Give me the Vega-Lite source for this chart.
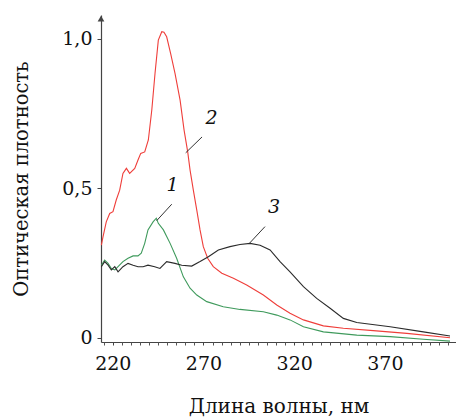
{
  "$schema": "https://vega.github.io/schema/vega-lite/v6.json",
  "width": 355,
  "height": 327,
  "autosize": "none",
  "padding": {"left": 101, "top": 15, "right": 0, "bottom": 75},
  "background": "white",
  "config": {
    "view": {"stroke": null},
    "font": "DejaVu Serif",
    "axis": {"grid": false, "domainColor": "#444", "tickColor": "#444", "labelColor": "#111", "titleColor": "#111", "labelFont": "DejaVu Serif", "titleFont": "DejaVu Serif", "titleFontWeight": "normal"}
  },
  "datasets": {
    "spectra": [
      {"wl": 213.7, "A": 0.310, "curve": "2"},
      {"wl": 214.6, "A": 0.338, "curve": "2"},
      {"wl": 216.4, "A": 0.388, "curve": "2"},
      {"wl": 218.3, "A": 0.416, "curve": "2"},
      {"wl": 220.1, "A": 0.422, "curve": "2"},
      {"wl": 221.9, "A": 0.461, "curve": "2"},
      {"wl": 223.8, "A": 0.494, "curve": "2"},
      {"wl": 225.6, "A": 0.550, "curve": "2"},
      {"wl": 227.5, "A": 0.567, "curve": "2"},
      {"wl": 229.3, "A": 0.550, "curve": "2"},
      {"wl": 232.1, "A": 0.567, "curve": "2"},
      {"wl": 233.9, "A": 0.595, "curve": "2"},
      {"wl": 235.4, "A": 0.617, "curve": "2"},
      {"wl": 237.6, "A": 0.622, "curve": "2"},
      {"wl": 239.6, "A": 0.662, "curve": "2"},
      {"wl": 241.5, "A": 0.762, "curve": "2"},
      {"wl": 243.3, "A": 0.886, "curve": "2"},
      {"wl": 245.1, "A": 0.996, "curve": "2"},
      {"wl": 247.0, "A": 1.024, "curve": "2"},
      {"wl": 248.2, "A": 1.022, "curve": "2"},
      {"wl": 249.7, "A": 1.007, "curve": "2"},
      {"wl": 251.9, "A": 0.951, "curve": "2"},
      {"wl": 254.3, "A": 0.885, "curve": "2"},
      {"wl": 257.1, "A": 0.795, "curve": "2"},
      {"wl": 259.3, "A": 0.695, "curve": "2"},
      {"wl": 261.3, "A": 0.622, "curve": "2"},
      {"wl": 262.6, "A": 0.561, "curve": "2"},
      {"wl": 264.4, "A": 0.494, "curve": "2"},
      {"wl": 266.3, "A": 0.427, "curve": "2"},
      {"wl": 268.1, "A": 0.361, "curve": "2"},
      {"wl": 269.9, "A": 0.305, "curve": "2"},
      {"wl": 272.3, "A": 0.266, "curve": "2"},
      {"wl": 275.4, "A": 0.238, "curve": "2"},
      {"wl": 280.1, "A": 0.216, "curve": "2"},
      {"wl": 286.5, "A": 0.199, "curve": "2"},
      {"wl": 293.8, "A": 0.177, "curve": "2"},
      {"wl": 303.0, "A": 0.143, "curve": "2"},
      {"wl": 310.4, "A": 0.110, "curve": "2"},
      {"wl": 317.7, "A": 0.082, "curve": "2"},
      {"wl": 325.1, "A": 0.060, "curve": "2"},
      {"wl": 336.1, "A": 0.040, "curve": "2"},
      {"wl": 347.1, "A": 0.032, "curve": "2"},
      {"wl": 363.6, "A": 0.024, "curve": "2"},
      {"wl": 382.1, "A": 0.015, "curve": "2"},
      {"wl": 405.9, "A": 0.000, "curve": "2"},

      {"wl": 213.7, "A": 0.243, "curve": "1"},
      {"wl": 215.5, "A": 0.260, "curve": "1"},
      {"wl": 217.4, "A": 0.249, "curve": "1"},
      {"wl": 219.2, "A": 0.232, "curve": "1"},
      {"wl": 221.1, "A": 0.227, "curve": "1"},
      {"wl": 222.9, "A": 0.238, "curve": "1"},
      {"wl": 225.6, "A": 0.255, "curve": "1"},
      {"wl": 228.4, "A": 0.266, "curve": "1"},
      {"wl": 231.2, "A": 0.274, "curve": "1"},
      {"wl": 233.9, "A": 0.274, "curve": "1"},
      {"wl": 235.7, "A": 0.283, "curve": "1"},
      {"wl": 237.6, "A": 0.316, "curve": "1"},
      {"wl": 239.4, "A": 0.361, "curve": "1"},
      {"wl": 242.2, "A": 0.388, "curve": "1"},
      {"wl": 244.0, "A": 0.400, "curve": "1"},
      {"wl": 245.1, "A": 0.383, "curve": "1"},
      {"wl": 247.9, "A": 0.361, "curve": "1"},
      {"wl": 251.6, "A": 0.316, "curve": "1"},
      {"wl": 255.2, "A": 0.266, "curve": "1"},
      {"wl": 258.9, "A": 0.204, "curve": "1"},
      {"wl": 262.6, "A": 0.166, "curve": "1"},
      {"wl": 266.3, "A": 0.143, "curve": "1"},
      {"wl": 271.8, "A": 0.121, "curve": "1"},
      {"wl": 280.9, "A": 0.104, "curve": "1"},
      {"wl": 290.1, "A": 0.095, "curve": "1"},
      {"wl": 303.0, "A": 0.087, "curve": "1"},
      {"wl": 310.4, "A": 0.076, "curve": "1"},
      {"wl": 317.7, "A": 0.060, "curve": "1"},
      {"wl": 325.1, "A": 0.037, "curve": "1"},
      {"wl": 336.1, "A": 0.020, "curve": "1"},
      {"wl": 354.5, "A": 0.009, "curve": "1"},
      {"wl": 372.9, "A": 0.004, "curve": "1"},
      {"wl": 391.2, "A": -0.005, "curve": "1"},
      {"wl": 405.9, "A": -0.011, "curve": "1"},

      {"wl": 213.7, "A": 0.238, "curve": "3"},
      {"wl": 215.5, "A": 0.255, "curve": "3"},
      {"wl": 217.4, "A": 0.243, "curve": "3"},
      {"wl": 219.2, "A": 0.227, "curve": "3"},
      {"wl": 221.1, "A": 0.238, "curve": "3"},
      {"wl": 222.9, "A": 0.221, "curve": "3"},
      {"wl": 225.6, "A": 0.238, "curve": "3"},
      {"wl": 228.4, "A": 0.249, "curve": "3"},
      {"wl": 231.2, "A": 0.243, "curve": "3"},
      {"wl": 233.9, "A": 0.238, "curve": "3"},
      {"wl": 236.7, "A": 0.238, "curve": "3"},
      {"wl": 239.4, "A": 0.243, "curve": "3"},
      {"wl": 243.1, "A": 0.238, "curve": "3"},
      {"wl": 246.0, "A": 0.232, "curve": "3"},
      {"wl": 249.7, "A": 0.255, "curve": "3"},
      {"wl": 254.3, "A": 0.249, "curve": "3"},
      {"wl": 258.0, "A": 0.243, "curve": "3"},
      {"wl": 263.5, "A": 0.240, "curve": "3"},
      {"wl": 268.1, "A": 0.255, "curve": "3"},
      {"wl": 272.7, "A": 0.271, "curve": "3"},
      {"wl": 278.2, "A": 0.294, "curve": "3"},
      {"wl": 284.6, "A": 0.305, "curve": "3"},
      {"wl": 290.1, "A": 0.312, "curve": "3"},
      {"wl": 295.7, "A": 0.316, "curve": "3"},
      {"wl": 301.2, "A": 0.310, "curve": "3"},
      {"wl": 306.7, "A": 0.294, "curve": "3"},
      {"wl": 312.2, "A": 0.255, "curve": "3"},
      {"wl": 317.7, "A": 0.221, "curve": "3"},
      {"wl": 325.1, "A": 0.171, "curve": "3"},
      {"wl": 332.4, "A": 0.132, "curve": "3"},
      {"wl": 339.8, "A": 0.099, "curve": "3"},
      {"wl": 347.1, "A": 0.065, "curve": "3"},
      {"wl": 354.5, "A": 0.051, "curve": "3"},
      {"wl": 372.9, "A": 0.037, "curve": "3"},
      {"wl": 391.2, "A": 0.020, "curve": "3"},
      {"wl": 405.9, "A": 0.006, "curve": "3"}
    ],
    "labels": [
      {"wl": 253.0, "A": 0.511, "text": "1"},
      {"wl": 274.5, "A": 0.734, "text": "2"},
      {"wl": 308.9, "A": 0.438, "text": "3"}
    ],
    "leaders": [
      {"wl": 252.5, "A": 0.447, "wl2": 244.2, "A2": 0.392},
      {"wl": 269.2, "A": 0.672, "wl2": 260.2, "A2": 0.619},
      {"wl": 303.9, "A": 0.372, "wl2": 295.3, "A2": 0.316}
    ],
    "arrow": [{"wl": 213.5, "A": 1.068}]
  },
  "resolve": {"axis": {"x": "independent"}},
  "layer": [
    {
      "data": {"name": "spectra"},
      "mark": {"type": "line", "strokeWidth": 1.1},
      "encoding": {
        "x": {
          "field": "wl", "type": "quantitative",
          "scale": {"domain": [213.5, 409.2], "nice": false, "zero": false},
          "axis": {
            "orient": "bottom",
            "title": "Длина волны, нм",
            "values": [220, 270, 320, 370],
            "labelFontSize": 19,
            "labelPadding": 9,
            "tickSize": 3,
            "titleFontSize": 20,
            "titlePadding": 23,
            "domainWidth": 1.2
          }
        },
        "y": {
          "field": "A", "type": "quantitative",
          "scale": {"domain": [-0.014, 1.08], "nice": false, "zero": false},
          "axis": {
            "title": "Оптическая плотность",
            "values": [0, 0.5, 1],
            "labelExpr": "datum.value == 0 ? '0' : replace(format(datum.value, '.1f'), '.', ',')",
            "labelFontSize": 19,
            "labelPadding": 5,
            "tickSize": 4,
            "titleFontSize": 19.5,
            "titlePadding": 30,
            "domainWidth": 1.2
          }
        },
        "color": {
          "field": "curve", "type": "nominal",
          "scale": {"domain": ["1", "2", "3"], "range": ["#3f9a5c", "#ef3e3a", "#2b2b2b"]},
          "legend": null
        }
      }
    },
    {
      "data": {"name": "leaders"},
      "mark": {"type": "rule", "color": "#333", "strokeWidth": 1},
      "encoding": {
        "x": {
          "field": "wl", "type": "quantitative",
          "axis": {
            "orient": "bottom",
            "title": null,
            "labels": false,
            "domain": false,
            "tickSize": 3,
            "tickColor": "#555",
            "values": [215, 225, 230, 235, 240, 245, 250, 255, 260, 265, 275, 280, 285, 290, 295, 300, 305, 310, 315, 325, 330, 335, 340, 345, 350, 355, 360, 365, 375, 380, 385, 390, 395, 400, 405]
          }
        },
        "y": {"field": "A", "type": "quantitative"},
        "x2": {"field": "wl2"},
        "y2": {"field": "A2"}
      }
    },
    {
      "data": {"name": "labels"},
      "mark": {"type": "text", "font": "DejaVu Serif", "fontStyle": "italic", "fontSize": 19, "color": "#111"},
      "encoding": {
        "x": {"field": "wl", "type": "quantitative", "axis": null},
        "y": {"field": "A", "type": "quantitative"},
        "text": {"field": "text"}
      }
    },
    {
      "data": {"name": "arrow"},
      "mark": {"type": "point", "shape": "triangle-up", "filled": true, "size": 45, "color": "#444", "opacity": 1, "clip": false},
      "encoding": {
        "x": {"field": "wl", "type": "quantitative", "axis": null},
        "y": {"field": "A", "type": "quantitative"}
      }
    }
  ]
}
